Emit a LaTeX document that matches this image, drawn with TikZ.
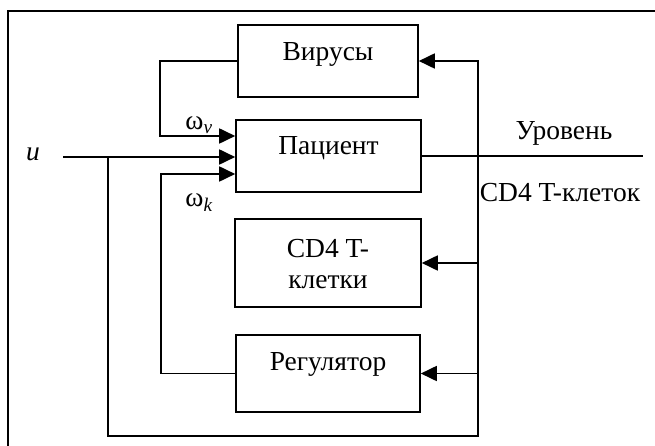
\documentclass[tikz,border=0pt]{standalone}
\usepackage{fontspec}
\setmainfont{Liberation Serif}
\usetikzlibrary{arrows.meta,calc}
\begin{document}
\begin{tikzpicture}[x=1pt,y=-1pt,
  line/.style={line width=1.8pt},
  arr/.style={line width=1.8pt,-{Triangle[length=16pt,width=15pt]}},
  blk/.style={draw,line width=1.6pt,inner sep=0pt},
  txt/.style={inner sep=0pt,font=\fontsize{27.5}{31}\selectfont,align=center}
]
\useasboundingbox (0,0) rectangle (655,446);
% frame (top and left edges)
\draw[line width=2.4pt] (8,446) -- (8,11) -- (655,11);

% blocks
\node[blk,minimum width=180pt,minimum height=72pt] (vir) at (328,61) {};
\node[blk,minimum width=185pt,minimum height=72pt] (pat) at (328.5,156) {};
\node[blk,minimum width=186pt,minimum height=88pt] (cd4) at (328,263) {};
\node[blk,minimum width=184pt,minimum height=77pt] (reg) at (328,373.5) {};

\node[txt] (virt) at (328,54) {Вирусы};
\node[txt] (patt) at (328.5,148) {Пациент};
\node[txt] (cd4t) at (328,264) {CD4 T-\\клетки};
\node[txt] (regt) at (328,364) {Регулятор};

% labels
\node[txt,font=\fontsize{27.5}{31}\selectfont\itshape] (u) at (33,154) {u};
\node[txt,anchor=base] (wv) at (199,130) {ω\textsubscript{\itshape v}};
\node[txt,anchor=base] (wk) at (199,207) {ω\textsubscript{\itshape k}};
\node[txt] (lev) at (564,133) {Уровень};
\node[txt] (lev2) at (560,193) {CD4 T-клеток};

% coordinates
\coordinate (uin) at (63,157);
\coordinate (br) at (108,157);
\coordinate (fb) at (478,436);
\coordinate (vb) at (160,136);
\coordinate (kb) at (161,174);
\coordinate (out) at (643,154);

% connectors
\draw[arr] (vir.west) -| (vb) -- (pat.west |- vb);
\draw[arr] (uin) -- (pat.west |- uin);
\draw[arr] (reg.west) -| (kb) -- (pat.west |- kb);
\draw[line] (pat.east) -- (pat.east -| out);
\draw[arr] (br) |- (fb) |- (vir.east);
\draw[arr] (fb |- cd4.east) -- (cd4.east);
\draw[arr] (fb |- reg.east) -- (reg.east);
\end{tikzpicture}
\end{document}
